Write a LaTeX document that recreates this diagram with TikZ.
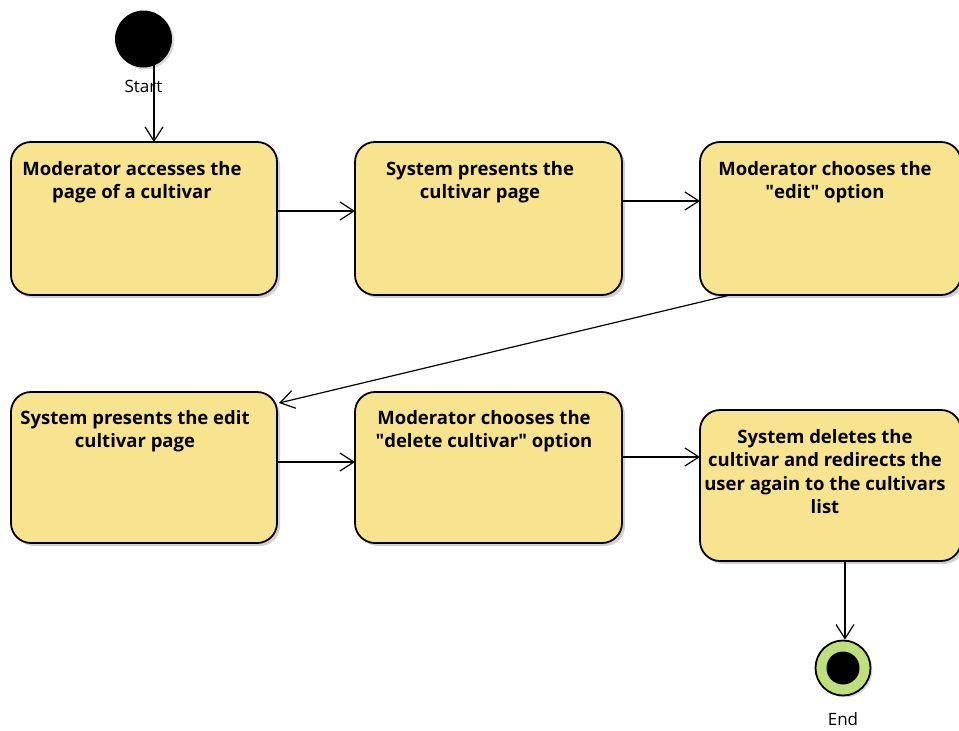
\documentclass[tikz,border=0pt]{standalone}
\usepackage{fontspec}
\setmainfont{Open Sans}
\usetikzlibrary{arrows.meta,shadows}
\begin{document}
\begin{tikzpicture}[x=1pt,y=-1pt,
  act/.style={draw=black,line width=1.8pt,fill=actfill,rounded corners=20pt,
    drop shadow={shadow xshift=3pt,shadow yshift=-3pt,fill=black!18,opacity=1}},
  acttext/.style={anchor=north,align=center,font=\bfseries\fontsize{18.5}{23.5}\selectfont,inner sep=0pt},
  flow/.style={draw=black,line width=1.2pt,-{Straight Barb[length=14pt,width=18pt,line width=1.2pt]}},
  lbl/.style={font=\fontsize{17}{19}\selectfont,inner sep=0pt}]
\definecolor{actfill}{HTML}{F8E38E}
\definecolor{endfill}{HTML}{BDE07A}
\useasboundingbox (0,0) rectangle (959,731);

% start node
\node[circle,fill=black,minimum size=57pt,inner sep=0pt,
  drop shadow={shadow xshift=2pt,shadow yshift=-2pt,fill=black!15,opacity=1}] (start) at (143.5,39) {};
\node[lbl] (startlbl) at (143.5,86) {Start};
\coordinate (s0) at (154,63);

% activity boxes
\path[act] (11,142) rectangle (277,295);
\path[act] (355,142) rectangle (622,295);
\path[act] (700,142) rectangle (961,295);
\path[act] (11,392) rectangle (277,543);
\path[act] (355,392) rectangle (622,543);
\path[act] (700,410) rectangle (961,561);

\node[acttext] (t1) at (132,161) {Moderator accesses the\\page of a cultivar};
\node[acttext] (t2) at (480,161) {System presents the\\cultivar page};
\node[acttext] (t3) at (825,161) {Moderator chooses the\\\textquotedbl edit\textquotedbl\ option};
\node[acttext] (t4) at (135,410) {System presents the edit\\cultivar page};
\node[acttext] (t5) at (484,410) {Moderator chooses the\\\textquotedbl delete cultivar\textquotedbl\ option};
\node[acttext] (t6) at (825,429) {System deletes the\\cultivar and redirects the\\user again to the cultivars\\list};

% connector end points on the box borders
\coordinate (b1top) at (154,142);
\coordinate (b1r) at (277,211);
\coordinate (b2l) at (355,211);
\coordinate (b2r) at (622,201);
\coordinate (b3l) at (700,201);
\coordinate (b3b) at (730,295);
\coordinate (b4r) at (279,403);
\coordinate (b4o) at (277,462);
\coordinate (b5l) at (355,462);
\coordinate (b5r) at (622,457);
\coordinate (b6l) at (700,457);
\coordinate (b6b) at (845,561);

% end node
\node[circle,draw=black,line width=1.8pt,fill=endfill,minimum size=55pt,inner sep=0pt,
  drop shadow={shadow xshift=2pt,shadow yshift=-2pt,fill=black!15,opacity=1}] (end) at (843,668) {};
\node[circle,fill=black,minimum size=33pt,inner sep=0pt] (endin) at (843,668) {};
\node[lbl] (endlbl) at (843,719) {End};

% control flow
\draw[flow] (s0) -- (b1top);
\draw[flow] (b1r) -- (b2l);
\draw[flow] (b2r) -- (b3l);
\draw[flow] (b3b) -- (b4r);
\draw[flow] (b4o) -- (b5l);
\draw[flow] (b5r) -- (b6l);
\draw[flow] (b6b) -- (end.north -| b6b);
\end{tikzpicture}
\end{document}
